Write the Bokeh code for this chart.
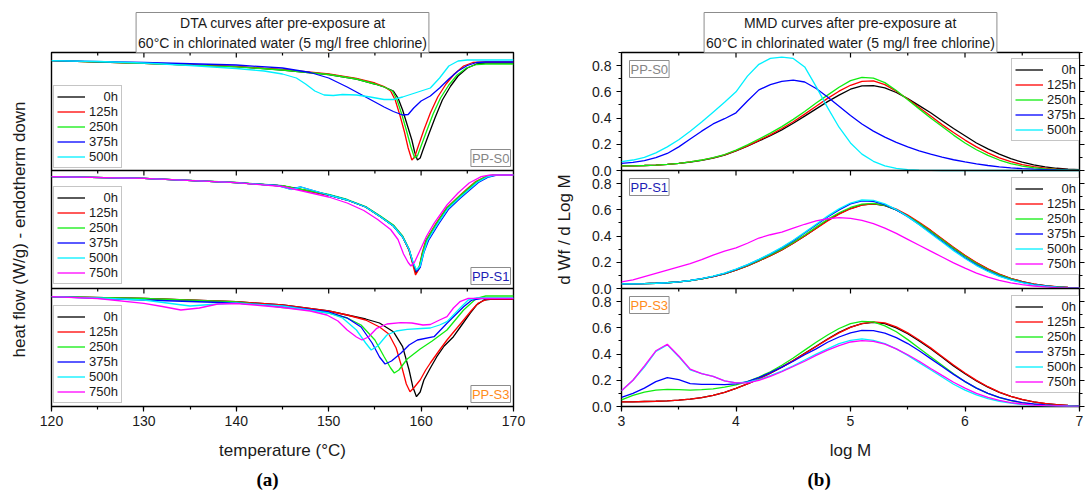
import numpy as np
from bokeh.plotting import figure
from bokeh.models import (Range1d, LinearAxis, SingleIntervalTicker, FixedTicker, Legend,
                          LegendItem, Label, Span, Title, CustomJSTickFormatter)
from bokeh.layouts import row
from bokeh.embed import file_html
from bokeh.resources import INLINE

FONT = "Liberation Sans"
SERIF = "Liberation Serif"

TIMES = ["0h", "125h", "250h", "375h", "500h", "750h"]
COLORS = ["#000000", "#ff0000", "#10ec10", "#0000ff", "#00f0ff", "#ff00ff"]
LEGEND_TEXT = ["\u2007\u20070h", "125h", "250h", "375h", "500h", "750h"]

# ---------------- DTA data (relative heat flow, endotherm down) ----------------
T_S0 = {
    "0h":   [120,130,140,145,150,153,155,156,157,157.5,158,158.5,159,159.3,159.6,159.9,160.2,160.8,161.5,162.3,163.2,164,165,166,167,170],
    "125h": [120,130,140,145,150,153,155,156,156.7,157.2,157.7,158.2,158.6,159.0,159.3,159.7,160.3,161,161.8,162.7,163.6,164.6,165.6,167,170],
    "250h": [120,130,140,145,150,153,155,156,156.9,157.4,157.9,158.4,158.9,159.3,159.6,160,160.6,161.3,162.1,163,163.9,164.9,166,167,170],
    "375h": [120,130,140,145,148,150,152,154,156,157,158,158.6,159.2,160,161,162,163,164,165,166,167,170],
    "500h": [120,125,130,135,140,143,145,146.5,147.5,148.5,149.5,150.5,151.5,153,154.5,156,157,158,159,160,161,162,163,164,165,170],
}
Q_S0 = {
    "0h":   [-0.082,-0.108,-0.142,-0.175,-0.22,-0.265,-0.315,-0.345,-0.385,-0.455,-0.575,-0.725,-0.875,-0.995,-1.075,-1.055,-0.975,-0.825,-0.655,-0.475,-0.335,-0.235,-0.155,-0.115,-0.105,-0.105],
    "125h": [-0.082,-0.108,-0.14,-0.17,-0.215,-0.26,-0.305,-0.34,-0.385,-0.475,-0.625,-0.795,-0.955,-1.075,-1.045,-0.935,-0.775,-0.605,-0.445,-0.315,-0.215,-0.135,-0.10,-0.095,-0.095],
    "250h": [-0.082,-0.108,-0.143,-0.175,-0.22,-0.265,-0.315,-0.345,-0.385,-0.475,-0.615,-0.775,-0.945,-1.055,-1.035,-0.935,-0.785,-0.615,-0.455,-0.325,-0.225,-0.155,-0.12,-0.115,-0.115],
    "375h": [-0.082,-0.10,-0.125,-0.155,-0.20,-0.255,-0.345,-0.445,-0.545,-0.59,-0.625,-0.62,-0.555,-0.485,-0.435,-0.355,-0.265,-0.185,-0.13,-0.10,-0.095,-0.095],
    "500h": [-0.082,-0.09,-0.105,-0.13,-0.16,-0.185,-0.215,-0.255,-0.315,-0.385,-0.425,-0.43,-0.42,-0.425,-0.445,-0.47,-0.47,-0.445,-0.415,-0.385,-0.355,-0.255,-0.135,-0.085,-0.075,-0.075],
}
T_S1 = {
    "0h":   [120,130,140,145,150,152,154,155.6,157,158,158.7,159.1,159.45,159.8,160.2,160.6,161.7,162.8,164,165,166,167.1,168,170],
    "125h": [120,130,140,145,150,152,154,155.6,157,158,158.7,159.1,159.4,159.75,160.1,160.5,161.6,162.7,163.9,164.9,165.9,167,168,170],
    "250h": [120,130,140,145,150,152,154,155.6,157,158,158.7,159.1,159.45,159.8,160.2,160.6,161.7,162.8,164,165,166,167.1,168,170],
    "375h": [120,130,140,144.5,145.9,147,150,152,154,155.6,157,158,158.7,159.1,159.5,159.9,160.3,160.8,161.9,163,164.2,165.2,166.2,167.3,168.2,170],
    "500h": [120,130,140,144.5,145.9,147,150,152,154,155.6,157,158,158.7,159.1,159.5,159.9,160.3,160.7,161.8,162.9,164.1,165.1,166.1,167.2,168,170],
    "750h": [120,130,140,145,150,152,153.8,155.3,156.7,157.5,158.1,158.6,158.9,159.3,159.9,160.6,161.4,162.8,164,165.2,166.5,167.5,170],
}
Q_S1 = {
    "0h":   [-0.062,-0.078,-0.122,-0.155,-0.245,-0.295,-0.365,-0.462,-0.555,-0.665,-0.795,-0.925,-1.025,-0.975,-0.815,-0.695,-0.528,-0.378,-0.275,-0.195,-0.115,-0.062,-0.045,-0.045],
    "125h": [-0.062,-0.078,-0.122,-0.155,-0.245,-0.295,-0.365,-0.46,-0.55,-0.66,-0.80,-0.94,-1.045,-0.99,-0.83,-0.70,-0.53,-0.38,-0.275,-0.19,-0.11,-0.06,-0.045,-0.045],
    "250h": [-0.062,-0.078,-0.12,-0.152,-0.24,-0.29,-0.36,-0.455,-0.545,-0.655,-0.785,-0.915,-1.005,-0.96,-0.81,-0.69,-0.525,-0.375,-0.27,-0.19,-0.11,-0.058,-0.042,-0.042],
    "375h": [-0.062,-0.078,-0.122,-0.15,-0.185,-0.165,-0.245,-0.295,-0.365,-0.462,-0.555,-0.665,-0.79,-0.915,-1.01,-0.97,-0.82,-0.70,-0.535,-0.385,-0.28,-0.2,-0.12,-0.065,-0.045,-0.045],
    "500h": [-0.062,-0.078,-0.122,-0.152,-0.19,-0.165,-0.245,-0.295,-0.365,-0.462,-0.555,-0.665,-0.79,-0.91,-0.995,-0.955,-0.815,-0.70,-0.532,-0.382,-0.278,-0.198,-0.118,-0.063,-0.045,-0.045],
    "750h": [-0.062,-0.078,-0.122,-0.16,-0.265,-0.325,-0.40,-0.49,-0.59,-0.69,-0.835,-0.92,-0.955,-0.915,-0.795,-0.655,-0.528,-0.345,-0.225,-0.125,-0.062,-0.045,-0.045],
}
T_S3 = {
    "0h":   [120,130,140,145,150,152,154,155.5,157,158,158.7,159.1,159.5,159.9,160.3,161,161.7,162.5,163.5,164.4,165.3,166,166.8,167.5,170],
    "125h": [120,130,140,145,150,152,154,155.5,156.5,157.3,158,158.4,158.8,159.2,159.9,160.5,161,162,162.8,163.7,164.6,165.4,166.2,167.1,170],
    "250h": [120,130,140,143,145,147,150,152,153.5,155,156,156.7,157.1,157.6,158.5,159.9,161.2,162.8,164.6,166,167,170],
    "375h": [120,130,140,145,150,152,153.5,154.7,155.5,156.1,156.8,157.8,158.7,159.6,161.4,162.8,164.6,165.5,166.5,170],
    "500h": [120,125,130,135,138,140,145,150,151.5,153,154,154.6,155.3,156.3,157.3,158.5,160,161,162,162.8,163.5,164.2,165.1,166,170],
    "750h": [120,125,130,132,134,136,138,140,142,145,148,149.8,151,152,153,153.6,154.3,155.2,156.3,157.8,159,160.2,161,162,162.8,163.5,164.2,165.1,170],
}
Q_S3 = {
    "0h":   [-0.082,-0.10,-0.132,-0.165,-0.225,-0.265,-0.305,-0.345,-0.432,-0.582,-0.815,-0.982,-1.082,-1.035,-0.915,-0.795,-0.682,-0.575,-0.482,-0.365,-0.248,-0.165,-0.115,-0.108,-0.108],
    "125h": [-0.082,-0.10,-0.132,-0.165,-0.225,-0.265,-0.315,-0.385,-0.455,-0.595,-0.815,-0.955,-1.032,-0.995,-0.915,-0.815,-0.745,-0.615,-0.515,-0.415,-0.315,-0.225,-0.145,-0.108,-0.108],
    "250h": [-0.082,-0.10,-0.135,-0.165,-0.19,-0.205,-0.245,-0.295,-0.365,-0.515,-0.682,-0.795,-0.845,-0.815,-0.705,-0.605,-0.525,-0.415,-0.215,-0.098,-0.075,-0.075],
    "375h": [-0.082,-0.115,-0.145,-0.175,-0.235,-0.295,-0.385,-0.545,-0.685,-0.755,-0.725,-0.648,-0.565,-0.515,-0.482,-0.348,-0.182,-0.115,-0.10,-0.10],
    "500h": [-0.082,-0.095,-0.115,-0.175,-0.155,-0.145,-0.175,-0.245,-0.295,-0.415,-0.545,-0.615,-0.575,-0.465,-0.425,-0.408,-0.40,-0.395,-0.365,-0.332,-0.265,-0.198,-0.115,-0.095,-0.095],
    "750h": [-0.082,-0.10,-0.148,-0.18,-0.215,-0.195,-0.155,-0.15,-0.165,-0.19,-0.225,-0.265,-0.325,-0.415,-0.485,-0.515,-0.485,-0.398,-0.355,-0.342,-0.345,-0.365,-0.36,-0.315,-0.282,-0.195,-0.132,-0.098,-0.098],
}

# ---------------- MMD data (dWf/dlogM vs log M) ----------------
LOGM = [3.0,3.1,3.2,3.3,3.4,3.5,3.6,3.7,3.8,3.9,4.0,4.1,4.2,4.3,4.4,4.5,4.6,4.7,4.8,4.9,5.0,
        5.1,5.2,5.3,5.4,5.5,5.6,5.7,5.8,5.9,6.0,6.1,6.2,6.3,6.4,6.5,6.6,6.7,6.8,6.9,7.0]
W_S0 = {
    "0h":   [.035,.036,.038,.041,.046,.054,.064,.078,.095,.118,.15,.185,.225,.265,.31,.36,.415,.47,.525,.575,.62,.645,.648,.63,.595,.548,.495,.44,.38,.32,.265,.21,.165,.125,.09,.063,.043,.028,.017,.01,.006],
    "125h": [.035,.036,.038,.041,.046,.054,.065,.079,.097,.12,.152,.188,.23,.272,.32,.372,.43,.49,.55,.605,.65,.68,.684,.655,.605,.545,.48,.415,.35,.29,.232,.18,.135,.097,.067,.045,.029,.018,.011,.006,.003],
    "250h": [.035,.036,.038,.041,.046,.054,.065,.08,.099,.122,.155,.195,.24,.285,.335,.39,.45,.515,.575,.635,.685,.71,.705,.67,.61,.54,.47,.40,.335,.27,.21,.158,.115,.08,.053,.034,.021,.013,.008,.004,.002],
    "375h": [.055,.062,.075,.098,.13,.18,.24,.30,.355,.395,.44,.53,.615,.655,.68,.69,.675,.625,.56,.49,.42,.355,.30,.255,.215,.18,.15,.125,.102,.082,.065,.05,.038,.028,.02,.014,.01,.007,.004,.002,.001],
    "500h": [.068,.08,.10,.135,.18,.235,.30,.37,.445,.52,.60,.72,.81,.855,.865,.855,.79,.64,.48,.33,.21,.125,.07,.035,.016,.007,.003,.001,0,0,0,0,0,0,0,0,0,0,0,0,0],
}
W_S1 = {
    "0h":   [.035,.036,.037,.04,.044,.05,.06,.073,.09,.112,.14,.172,.21,.25,.295,.345,.40,.46,.52,.57,.61,.638,.645,.632,.60,.555,.50,.44,.375,.31,.25,.195,.148,.108,.076,.052,.034,.021,.013,.008,.005],
    "125h": [.035,.036,.037,.04,.044,.05,.06,.073,.09,.112,.14,.172,.21,.25,.295,.345,.40,.458,.515,.567,.608,.636,.646,.636,.605,.56,.505,.445,.38,.315,.253,.197,.15,.11,.078,.053,.035,.022,.014,.008,.005],
    "250h": [.035,.036,.037,.04,.044,.05,.06,.074,.092,.114,.143,.176,.215,.256,.30,.352,.408,.468,.527,.578,.618,.644,.65,.635,.60,.553,.497,.437,.372,.307,.246,.19,.143,.104,.073,.049,.032,.02,.012,.007,.004],
    "375h": [.035,.036,.037,.04,.044,.05,.061,.075,.093,.116,.146,.18,.22,.263,.31,.363,.423,.485,.545,.60,.645,.668,.665,.64,.60,.548,.488,.425,.36,.295,.235,.18,.134,.097,.068,.046,.03,.019,.011,.007,.004],
    "500h": [.035,.036,.037,.04,.044,.05,.061,.075,.094,.117,.147,.182,.222,.266,.314,.368,.428,.49,.552,.607,.652,.675,.672,.645,.602,.548,.486,.42,.354,.289,.229,.175,.13,.093,.065,.044,.028,.018,.011,.006,.004],
    "750h": [.05,.065,.09,.115,.14,.165,.19,.22,.255,.285,.31,.345,.385,.41,.43,.46,.49,.515,.532,.54,.535,.52,.495,.46,.42,.375,.33,.285,.24,.195,.155,.118,.087,.062,.043,.029,.019,.012,.007,.004,.002],
}
W_S3 = {
    "0h":   [.035,.036,.038,.04,.043,.048,.056,.068,.085,.108,.138,.172,.21,.255,.30,.35,.405,.46,.515,.565,.605,.632,.642,.632,.60,.555,.50,.44,.375,.31,.25,.195,.148,.108,.077,.053,.035,.022,.014,.009,.006],
    "125h": [.035,.036,.038,.04,.043,.048,.056,.068,.085,.108,.138,.172,.21,.255,.30,.35,.403,.458,.512,.562,.603,.632,.645,.638,.607,.562,.507,.447,.382,.316,.255,.199,.151,.11,.078,.054,.036,.023,.014,.009,.005],
    "250h": [.05,.085,.11,.125,.13,.128,.125,.128,.135,.148,.165,.19,.225,.265,.315,.37,.43,.49,.545,.595,.632,.65,.645,.615,.57,.51,.445,.38,.315,.25,.19,.14,.10,.068,.045,.028,.017,.01,.006,.003,.002],
    "375h": [.07,.10,.14,.19,.22,.205,.175,.168,.168,.167,.172,.19,.22,.258,.30,.345,.395,.44,.49,.53,.562,.58,.578,.56,.525,.48,.425,.365,.305,.245,.19,.14,.10,.07,.047,.03,.019,.012,.007,.004,.002],
    "500h": [.12,.20,.30,.42,.47,.38,.28,.25,.23,.195,.18,.185,.205,.235,.27,.31,.355,.40,.44,.48,.505,.515,.505,.48,.44,.39,.335,.28,.225,.17,.125,.088,.06,.04,.025,.015,.009,.005,.003,.002,.001],
    "750h": [.12,.20,.31,.425,.475,.385,.285,.25,.23,.195,.18,.18,.20,.23,.265,.305,.345,.39,.43,.465,.492,.502,.497,.475,.44,.395,.345,.29,.237,.185,.14,.10,.07,.047,.03,.019,.011,.006,.004,.002,.001],
}

# title lines (first line indented with en spaces so that both lines are centred)
DTA_TITLE = ("\u2002" * 6 + "DTA curves after pre-exposure at\n"
             "60\u00b0C in chlorinated water (5 mg/l free chlorine)")
MMD_TITLE = ("\u2002" * 5 + "\u2009MMD curves after pre-exposure at\n"
             "60\u00b0C in chlorinated water (5 mg/l free chlorine)")
SAMPLES = ["PP-S0", "PP-S1", "PP-S3"]
SAMPLE_COLORS = ["#858585", "#1c1cb4", "#ff8c1a"]

X_TICKS_L = [130, 140, 150, 160]
X_MINOR_L = [125, 135, 145, 155, 165]
X_TICKS_R = [4, 5, 6]
X_MINOR_R = [3.5, 4.5, 5.5, 6.5]
Y_TICKS_R = [0.0, 0.2, 0.4, 0.6, 0.8]
Y_MINOR_R = [0.1, 0.3, 0.5, 0.7]

HL = 1.18   # DTA subplot depth (relative units)
HR = 0.9    # MMD subplot height (y max)
FRAME_H = 354
LINE_W = 1.3
TXT = "#1a1a1a"


def base_fig(x_range, y_range, frame_w, left, right):
    p = figure(frame_width=frame_w, frame_height=FRAME_H, min_border_left=left,
               min_border_right=right, min_border_top=52, min_border_bottom=86,
               x_range=x_range, y_range=y_range, output_backend="svg", toolbar_location=None)
    p.grid.visible = False
    p.outline_line_color = "black"
    p.outline_line_width = 1.4
    p.background_fill_color = "white"
    p.border_fill_color = "white"
    return p


def style_ticks(ax, out_major=5, out_minor=3):
    ax.axis_line_color = None
    ax.major_tick_out = out_major
    ax.major_tick_in = 0
    ax.minor_tick_out = out_minor
    ax.minor_tick_in = 0
    ax.major_tick_line_color = "black"
    ax.minor_tick_line_color = "black"
    ax.major_tick_line_width = 1.2
    ax.minor_tick_line_width = 1.2
    ax.major_label_text_font = FONT
    ax.major_label_text_font_size = "14px"
    ax.major_label_text_color = TXT


def style_bottom(ax, ticker, label):
    ax.ticker = ticker
    style_ticks(ax)
    ax.major_label_standoff = 4
    ax.axis_label = label
    ax.axis_label_text_font = FONT
    ax.axis_label_text_font_size = "17px"
    ax.axis_label_text_font_style = "normal"
    ax.axis_label_text_color = TXT
    ax.axis_label_standoff = 12


def set_title(p, text):
    t = p.title
    t.text = text
    t.align = "center"
    t.text_font = FONT
    t.text_font_size = "14px"
    t.text_font_style = "normal"
    t.text_color = TXT
    t.text_line_height = 1.25
    t.border_line_color = "#8c8c8c"
    t.border_line_width = 1
    t.background_fill_color = "white"
    t.padding = 2
    t.standoff = 0


def add_panel_letter(p, letter, offset):
    p.add_layout(Title(text=letter, align="left", offset=offset, text_font=SERIF,
                       text_font_size="19px", text_font_style="bold", text_color="black",
                       standoff=8), "below")


def top_ticks(p, majors, minors, ytop, rname):
    p.ray(x=majors, y=[ytop] * len(majors), length=5, length_units="screen",
          angle=-np.pi / 2, line_color="black", line_width=1.2, y_range_name=rname)
    p.ray(x=minors, y=[ytop] * len(minors), length=3, length_units="screen",
          angle=-np.pi / 2, line_color="black", line_width=1.2, y_range_name=rname)


def add_legend(p, rends, labels, loc):
    items = [LegendItem(label=lab, renderers=[r]) for r, lab in zip(rends, labels)]
    lg = Legend(items=items, location=loc, label_text_font=FONT, label_text_font_size="13px",
                label_text_color=TXT, glyph_width=28, glyph_height=15, label_height=15,
                label_standoff=4, padding=3, spacing=0, margin=0,
                border_line_color="#8c8c8c", border_line_width=1,
                background_fill_color="white", background_fill_alpha=1.0)
    p.add_layout(lg)


def sample_label(p, text, color, **kw):
    p.add_layout(Label(text=text, text_color=color, text_font=FONT, text_font_size="13px",
                       border_line_color="#8c8c8c", border_line_width=1,
                       background_fill_color="white", padding=1, **kw))


# =================== LEFT PANEL (DTA) ===================
pL = base_fig(Range1d(120, 170), Range1d(0, 3), 462, 51, 13)
pL.yaxis.visible = False
pL.extra_y_ranges = {"S0": Range1d(-3 * HL, 0), "S1": Range1d(-2 * HL, HL), "S3": Range1d(-HL, 2 * HL)}
style_bottom(pL.xaxis[0], SingleIntervalTicker(interval=10, num_minor_ticks=2), "temperature (\u00b0C)")
ylabL = LinearAxis(ticker=FixedTicker(ticks=[]), axis_line_color=None,
                   major_tick_line_color=None, minor_tick_line_color=None,
                   major_label_standoff=0, axis_label="heat flow (W/g) - endotherm down",
                   axis_label_text_font=FONT, axis_label_text_font_size="17px",
                   axis_label_text_font_style="normal", axis_label_text_color=TXT,
                   axis_label_standoff=23)
pL.add_layout(ylabL, "left")
set_title(pL, DTA_TITLE)
add_panel_letter(pL, "(a)", 205)
for loc in (1, 2):
    pL.add_layout(Span(location=loc, dimension="width", line_color="black", line_width=1.4))

for rname, T, Q, n, legloc in (("S0", T_S0, Q_S0, 5, (2, 238)),
                                ("S1", T_S1, Q_S1, 6, (2, 122)),
                                ("S3", T_S3, Q_S3, 6, (2, 3))):
    rends = []
    for i in range(n):
        key = TIMES[i]
        rends.append(pL.line(T[key], Q[key], line_color=COLORS[i], line_width=LINE_W,
                             y_range_name=rname))
    add_legend(pL, rends, LEGEND_TEXT[:n], legloc)
    top_ticks(pL, X_TICKS_L, X_MINOR_L, 0, rname)

for (rname, txt, col) in zip(("S0", "S1", "S3"), SAMPLES, SAMPLE_COLORS):
    sample_label(pL, txt, col, x=170, y=-HL, y_range_name=rname, anchor="bottom_right",
                 x_offset=-3, y_offset=4)

# =================== RIGHT PANEL (MMD) ===================
pR = base_fig(Range1d(3, 7), Range1d(0, 3 * HR), 458, 95, 6)
pR.extra_y_ranges = {"S0": Range1d(-2 * HR, HR), "S1": Range1d(-HR, 2 * HR), "S3": Range1d(0, 3 * HR)}
style_bottom(pR.xaxis[0], SingleIntervalTicker(interval=1, num_minor_ticks=2), "log M")
set_title(pR, MMD_TITLE)
add_panel_letter(pR, "(b)", 186)

stack_major = [round(k * HR + t, 3) for k in range(3) for t in Y_TICKS_R]
stack_minor = [round(k * HR + t, 3) for k in range(3) for t in Y_MINOR_R] + [round(3 * HR, 3)]
yax = pR.yaxis[0]
yax.ticker = FixedTicker(ticks=stack_major, minor_ticks=stack_minor)
yax.formatter = CustomJSTickFormatter(
    code="const v = tick - 0.9*Math.floor((tick + 1e-6)/0.9); return v.toFixed(1);")
style_ticks(yax)
yax.major_label_standoff = 5
yax.axis_label = "d Wf / d Log M"
yax.axis_label_text_font = FONT
yax.axis_label_text_font_size = "17px"
yax.axis_label_text_font_style = "normal"
yax.axis_label_text_color = TXT
yax.axis_label_standoff = 15

rax = LinearAxis(ticker=FixedTicker(ticks=stack_major, minor_ticks=stack_minor),
                 formatter=CustomJSTickFormatter(code="return '';"))
style_ticks(rax)
rax.major_label_standoff = 0
pR.add_layout(rax, "right")
for loc in (HR, 2 * HR):
    pR.add_layout(Span(location=loc, dimension="width", line_color="black", line_width=1.4))

for rname, W, n, legloc in (("S0", W_S0, 5, (390, 265)),
                            ("S1", W_S1, 6, (390, 131)),
                            ("S3", W_S3, 6, (390, 13))):
    rends = []
    for i in range(n):
        key = TIMES[i]
        rends.append(pR.line(LOGM, W[key], line_color=COLORS[i], line_width=LINE_W,
                             y_range_name=rname))
    add_legend(pR, rends, LEGEND_TEXT[:n], legloc)
    top_ticks(pR, X_TICKS_R, X_MINOR_R, HR, rname)

for (rname, txt, col) in zip(("S0", "S1", "S3"), SAMPLES, SAMPLE_COLORS):
    sample_label(pR, txt, col, x=3, y=HR, y_range_name=rname, anchor="top_left",
                 x_offset=8, y_offset=-8)

layout = row(pL, pR)
open("out.html", "w").write(file_html(layout, INLINE))
